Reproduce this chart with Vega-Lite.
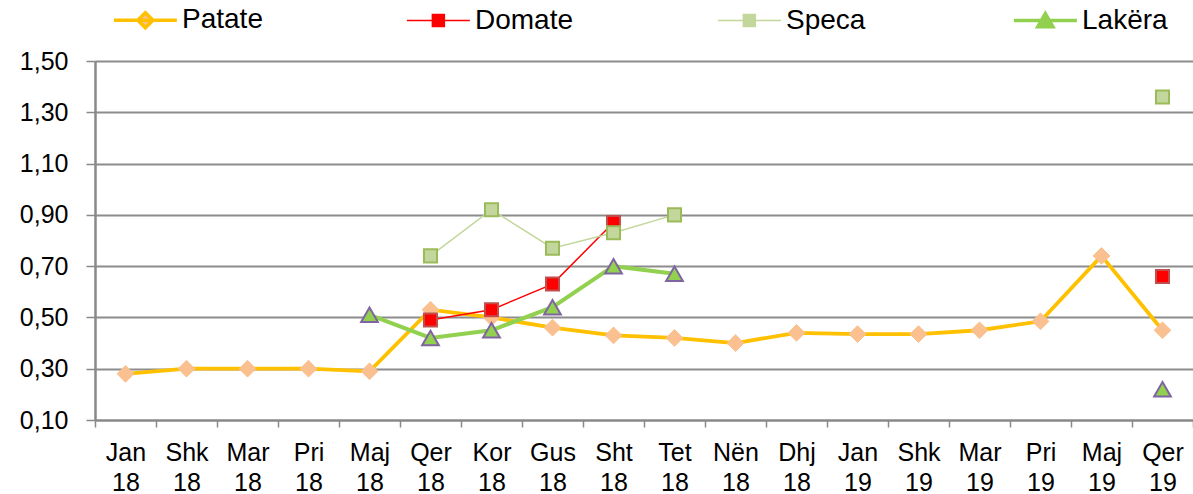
{
  "$schema": "https://vega.github.io/schema/vega-lite/v6.json",
  "width": 1098,
  "height": 359,
  "autosize": {"type": "none"},
  "padding": {"left": 95, "top": 61, "right": 0, "bottom": 74},
  "background": "white",
  "config": {
    "view": {"stroke": null},
    "font": "Liberation Sans"
  },
  "data": {
    "values": [
      {"m": "Jan 18", "s": "Patate", "v": 0.28, "g": 1},
      {"m": "Shk 18", "s": "Patate", "v": 0.30, "g": 1},
      {"m": "Mar 18", "s": "Patate", "v": 0.30, "g": 1},
      {"m": "Pri 18", "s": "Patate", "v": 0.30, "g": 1},
      {"m": "Maj 18", "s": "Patate", "v": 0.29, "g": 1},
      {"m": "Qer 18", "s": "Patate", "v": 0.53, "g": 1},
      {"m": "Kor 18", "s": "Patate", "v": 0.50, "g": 1},
      {"m": "Gus 18", "s": "Patate", "v": 0.46, "g": 1},
      {"m": "Sht 18", "s": "Patate", "v": 0.43, "g": 1},
      {"m": "Tet 18", "s": "Patate", "v": 0.42, "g": 1},
      {"m": "Nën 18", "s": "Patate", "v": 0.40, "g": 1},
      {"m": "Dhj 18", "s": "Patate", "v": 0.44, "g": 1},
      {"m": "Jan 19", "s": "Patate", "v": 0.435, "g": 1},
      {"m": "Shk 19", "s": "Patate", "v": 0.435, "g": 1},
      {"m": "Mar 19", "s": "Patate", "v": 0.45, "g": 1},
      {"m": "Pri 19", "s": "Patate", "v": 0.485, "g": 1},
      {"m": "Maj 19", "s": "Patate", "v": 0.74, "g": 1},
      {"m": "Qer 19", "s": "Patate", "v": 0.45, "g": 1},
      {"m": "Qer 18", "s": "Domate", "v": 0.49, "g": 1},
      {"m": "Kor 18", "s": "Domate", "v": 0.53, "g": 1},
      {"m": "Gus 18", "s": "Domate", "v": 0.63, "g": 1},
      {"m": "Sht 18", "s": "Domate", "v": 0.87, "g": 1},
      {"m": "Qer 19", "s": "Domate", "v": 0.66, "g": 2},
      {"m": "Qer 18", "s": "Speca", "v": 0.74, "g": 1},
      {"m": "Kor 18", "s": "Speca", "v": 0.92, "g": 1},
      {"m": "Gus 18", "s": "Speca", "v": 0.77, "g": 1},
      {"m": "Sht 18", "s": "Speca", "v": 0.83, "g": 1},
      {"m": "Tet 18", "s": "Speca", "v": 0.90, "g": 1},
      {"m": "Qer 19", "s": "Speca", "v": 1.36, "g": 2},
      {"m": "Maj 18", "s": "Lakëra", "v": 0.51, "g": 1},
      {"m": "Qer 18", "s": "Lakëra", "v": 0.42, "g": 1},
      {"m": "Kor 18", "s": "Lakëra", "v": 0.45, "g": 1},
      {"m": "Gus 18", "s": "Lakëra", "v": 0.54, "g": 1},
      {"m": "Sht 18", "s": "Lakëra", "v": 0.70, "g": 1},
      {"m": "Tet 18", "s": "Lakëra", "v": 0.67, "g": 1},
      {"m": "Qer 19", "s": "Lakëra", "v": 0.22, "g": 2}
    ]
  },
  "encoding": {
    "x": {
      "field": "m",
      "type": "ordinal",
      "sort": ["Jan 18", "Shk 18", "Mar 18", "Pri 18", "Maj 18", "Qer 18", "Kor 18", "Gus 18", "Sht 18", "Tet 18", "Nën 18", "Dhj 18", "Jan 19", "Shk 19", "Mar 19", "Pri 19", "Maj 19", "Qer 19"],
      "scale": {"type": "band", "paddingInner": 0, "paddingOuter": 0},
      "axis": {
        "title": null,
        "labelAngle": 0,
        "tickBand": "extent",
        "labelExpr": "split(datum.label, ' ')",
        "labelFontSize": 25,
        "labelColor": "#000000",
        "labelLineHeight": 30,
        "labelBaseline": "top",
        "labelPadding": 13,
        "tickSize": 7,
        "tickColor": "#888888",
        "tickWidth": 1.5,
        "domainColor": "#888888",
        "domainWidth": 2,
        "grid": false
      }
    },
    "y": {
      "field": "v",
      "type": "quantitative",
      "scale": {"domain": [0.1, 1.5], "nice": false, "zero": false},
      "axis": {
        "title": null,
        "values": [0.1, 0.3, 0.5, 0.7, 0.9, 1.1, 1.3, 1.5],
        "labelExpr": "replace(format(datum.value, '.2f'), '.', ',')",
        "labelFontSize": 25,
        "labelColor": "#000000",
        "labelPadding": 18,
        "tickSize": 9,
        "tickColor": "#888888",
        "tickWidth": 1.5,
        "domainColor": "#888888",
        "domainWidth": 2.5,
        "grid": true,
        "gridColor": "#8c8c8c",
        "gridWidth": 1.8
      }
    }
  },
  "layer": [
    {
      "transform": [{"filter": "datum.s == 'Patate'"}],
      "mark": {"type": "line", "strokeWidth": 3.8, "strokeJoin": "miter"},
      "encoding": {
        "detail": {"field": "g"},
        "color": {
          "field": "s",
          "type": "nominal",
          "scale": {"domain": ["Patate", "Domate", "Speca", "Lakëra"], "range": ["#FFC000", "#FF0000", "#C3D69B", "#92D050"]},
          "legend": {
            "title": null,
            "orient": "none",
            "direction": "horizontal",
            "legendX": 54,
            "legendY": -55,
            "padding": 0,
            "symbolSize": 3969,
            "labelFontSize": 28,
            "labelColor": "#000000",
            "labelOffset": 5,
            "columnPadding": 140,
            "labelLimit": 300,
            "encode": {
              "symbols": {
                "update": {
                  "shape": {"signal": "datum.value == 'Patate' ? 'M-1.56,0L0.44,0M-0.56,-0.24L-0.32,0L-0.56,0.24L-0.8,0Z' : (datum.value == 'Lakëra' ? 'M-1.56,0L0.44,0M-0.56,-0.22L-0.32,0.2L-0.8,0.2Z' : 'M-1.56,0L0.44,0M-0.75,-0.19L-0.37,-0.19L-0.37,0.19L-0.75,0.19Z')"},
                  "size": {"value": 3969},
                  "fill": {"signal": "datum.value == 'Patate' ? '#FAC090' : (datum.value == 'Domate' ? '#FF0000' : (datum.value == 'Speca' ? '#C3D69B' : '#92D050'))"},
                  "strokeWidth": {"signal": "datum.value == 'Patate' || datum.value == 'Lakëra' ? 3.5 : 1.5"},
                  "opacity": {"value": 1}
                }
              }
            }
          }
        }
      }
    },
    {
      "transform": [{"filter": "datum.s == 'Patate'"}],
      "mark": {"type": "point", "shape": "diamond", "filled": true, "fill": "#FAC090", "stroke": "#FAC090", "strokeWidth": 1, "size": 280, "opacity": 1}
    },
    {
      "transform": [{"filter": "datum.s == 'Domate'"}],
      "mark": {"type": "line", "strokeWidth": 1.5},
      "encoding": {
        "detail": {"field": "g"},
        "color": {"field": "s", "type": "nominal"}
      }
    },
    {
      "transform": [{"filter": "datum.s == 'Domate'"}],
      "mark": {"type": "point", "shape": "square", "filled": true, "fill": "#FF0000", "stroke": "#C0504D", "strokeWidth": 2, "size": 170, "opacity": 1}
    },
    {
      "transform": [{"filter": "datum.s == 'Speca'"}],
      "mark": {"type": "line", "strokeWidth": 1.5},
      "encoding": {
        "detail": {"field": "g"},
        "color": {"field": "s", "type": "nominal"}
      }
    },
    {
      "transform": [{"filter": "datum.s == 'Speca'"}],
      "mark": {"type": "point", "shape": "square", "filled": true, "fill": "#C3D69B", "stroke": "#9BBB59", "strokeWidth": 2, "size": 170, "opacity": 1}
    },
    {
      "transform": [{"filter": "datum.s == 'Lakëra'"}],
      "mark": {"type": "line", "strokeWidth": 4, "strokeJoin": "miter"},
      "encoding": {
        "detail": {"field": "g"},
        "color": {"field": "s", "type": "nominal"}
      }
    },
    {
      "transform": [{"filter": "datum.s == 'Lakëra'"}],
      "mark": {"type": "point", "shape": "triangle-up", "filled": true, "fill": "#92D050", "stroke": "#8064A2", "strokeWidth": 2, "size": 280, "opacity": 1}
    }
  ]
}
